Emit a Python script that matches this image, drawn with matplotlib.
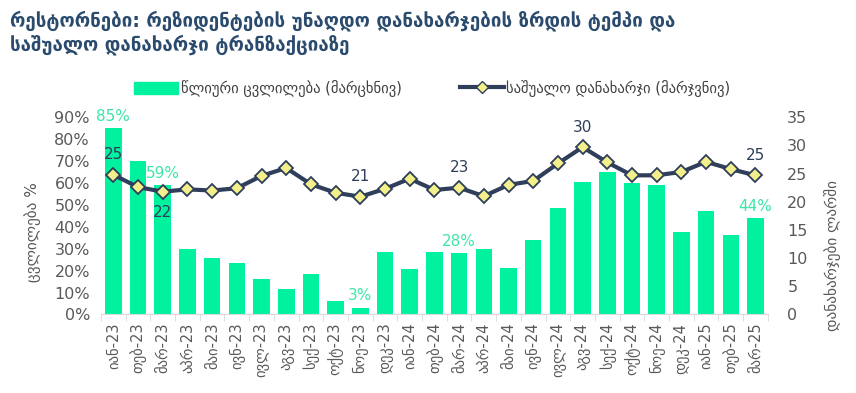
import numpy as np
import matplotlib.pyplot as plt
from matplotlib.ticker import FuncFormatter

plt.rcParams['font.family'] = ['DejaVu Sans']

# month labels (Georgian)
months = ['იან-23', 'თებ-23', 'მარ-23', 'აპრ-23', 'მაი-23', 'ივნ-23', 'ივლ-23', 'აგვ-23',
          'სექ-23', 'ოქტ-23', 'ნოე-23', 'დეკ-23', 'იან-24', 'თებ-24', 'მარ-24', 'აპრ-24',
          'მაი-24', 'ივნ-24', 'ივლ-24', 'აგვ-24', 'სექ-24', 'ოქტ-24', 'ნოე-24', 'დეკ-24',
          'იან-25', 'თებ-25', 'მარ-25']

# yearly change, % (left axis)
yoy_change = [85, 70, 59, 30, 25.6, 23.6, 16, 11.5, 18.4, 6.2, 3, 28.3, 20.7, 28.3, 28,
              29.8, 21.1, 33.9, 48.8, 60.4, 65.1, 60, 59.2, 37.6, 47.3, 36.4, 44]

# average spend per transaction, GEL (right axis)
avg_spend = [24.8, 22.6, 21.8, 22.2, 22.0, 22.4, 24.6, 26.0, 23.1, 21.6, 20.9, 22.3, 24.1,
             22.1, 22.5, 21.0, 23.0, 23.7, 26.8, 29.7, 27.0, 24.7, 24.7, 25.3, 27.1, 25.8, 24.7]

# which points get a value label
bar_labels = {0: '85%', 2: '59%', 10: '3%', 14: '28%', 26: '44%'}
line_labels = {0: ('25', 'above'), 2: ('22', 'below'), 10: ('21', 'above'),
               14: ('23', 'above'), 19: ('30', 'above'), 26: ('25', 'above')}

bar_color = '#00F29E'
bar_text = '#3EE6A6'
line_color = '#2F3E5A'
marker_color = '#F3EF8A'
tick_color = '#595959'
title_color = '#2A4B6E'

fig = plt.figure(figsize=(8.56, 3.93), dpi=100)
ax = fig.add_axes([0.118, 0.200, 0.779, 0.5015])
ax2 = ax.twinx()

x = np.arange(len(months))
ax.bar(x, yoy_change, width=0.67, color=bar_color, zorder=2)
ax.set_xlim(-0.5, len(months) - 0.5)
ax.set_ylim(0, 90)
ax.set_yticks(np.arange(0, 91, 10))
ax.yaxis.set_major_formatter(FuncFormatter(lambda v, p: f'{v:.0f}%'))

ax.set_xticks(x)
ax.set_xticklabels(months, rotation=90, fontsize=10.5, color=tick_color)
ax.set_xticks(np.arange(-0.5, len(months), 1), minor=True)
ax.tick_params(axis='x', which='major', length=0, pad=6)
ax.tick_params(axis='x', which='minor', length=5, color='#D9D9D9')
ax.tick_params(axis='y', length=0, labelsize=11.5, labelcolor=tick_color, pad=8)

for s in ['top', 'right', 'left']:
    ax.spines[s].set_visible(False)
    ax2.spines[s].set_visible(False)
ax.spines['bottom'].set_color('#D9D9D9')
ax2.spines['bottom'].set_visible(False)

for i, t in bar_labels.items():
    ax.text(i, yoy_change[i] + 2, t, ha='center', va='bottom', fontsize=11, color=bar_text)

ax2.plot(x, avg_spend, color=line_color, lw=3, marker='D', markersize=7,
         markerfacecolor=marker_color, markeredgecolor=line_color, markeredgewidth=1.3, zorder=3)
ax2.set_ylim(0, 35)
ax2.set_yticks(np.arange(0, 36, 5))
ax2.tick_params(axis='y', length=0, labelsize=11.5, labelcolor=tick_color, pad=14)

for i, (t, pos) in line_labels.items():
    if pos == 'above':
        ax2.text(i, avg_spend[i] + 2.2, t, ha='center', va='bottom', fontsize=11, color=line_color)
    else:
        ax2.text(i, avg_spend[i] - 2.3, t, ha='center', va='top', fontsize=11, color=line_color)

ax.set_ylabel('ცვლილება %', fontsize=11, color=tick_color)
ax.yaxis.set_label_coords(-0.09, 0.42)
ax2.set_ylabel('დანახარჯები ლარში', fontsize=11, color=tick_color, rotation=90)
ax2.yaxis.set_label_coords(1.085, 0.30)

# legend
h1 = plt.Rectangle((0, 0), 1, 1, color=bar_color)
h2, = ax2.plot([], [], color=line_color, lw=3, marker='D', markersize=6,
               markerfacecolor=marker_color, markeredgecolor=line_color)
fig.legend([h1, h2], ['წლიური ცვლილება (მარცხნივ)', 'საშუალო დანახარჯი (მარჯვნივ)'],
           loc='center', bbox_to_anchor=(0.505, 0.775), ncol=2, frameon=False,
           fontsize=10.5, handlelength=3.0, handleheight=0.9, columnspacing=4.0,
           handletextpad=0.2, labelcolor='#404040')

fig.text(0.012, 0.975, 'რესტორნები: რეზიდენტების უნაღდო დანახარჯების ზრდის ტემპი და\n'
         'საშუალო დანახარჯი ტრანზაქციაზე', ha='left', va='top', fontsize=13.5,
         fontweight='bold', color=title_color, linespacing=1.25)

fig.savefig('out.png', dpi=100)
